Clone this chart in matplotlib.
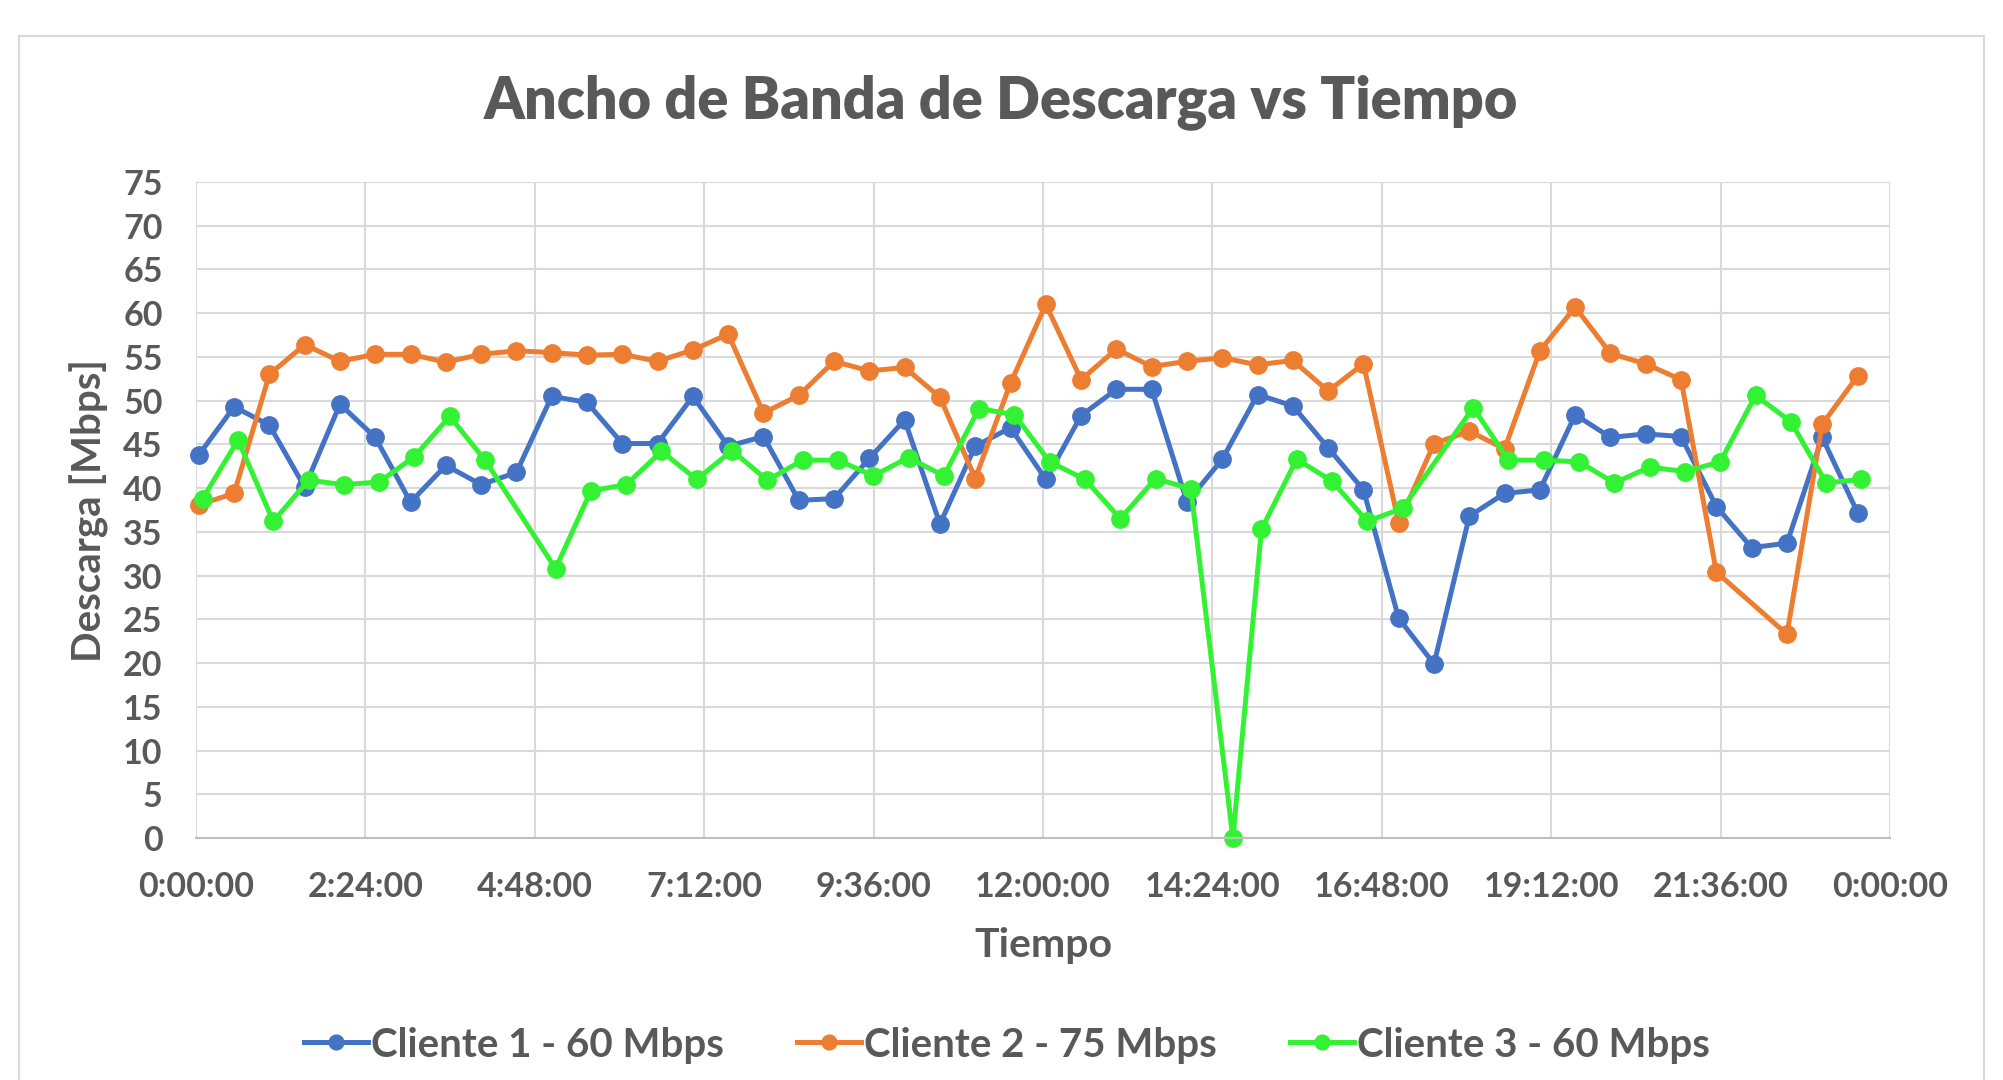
import numpy as np
import matplotlib.pyplot as plt
from matplotlib.patches import Rectangle

plt.rcParams['font.family'] = ['Lato', 'DejaVu Sans']
plt.rcParams['font.weight'] = 'bold'

# tiempos de medicion (horas), cada 30 min
t_12 = 0.04 + 0.5 * np.arange(48)
t_3 = 0.095 + 0.5 * np.arange(48)
t_3[29] = 14.69   # la medicion con 0 Mbps se tomo un poco mas tarde

cliente1 = [43.8, 49.3, 47.2, 40.1, 49.6, 45.8, 38.4, 42.6, 40.4, 41.8, 50.5, 49.8,
            45.1, 45.1, 50.5, 44.8, 45.9, 38.6, 38.8, 43.4, 47.8, 35.9, 44.8, 46.9,
            41.0, 48.3, 51.3, 51.3, 38.4, 43.3, 50.7, 49.4, 44.6, 39.8, 25.1, 19.9,
            36.8, 39.4, 39.8, 48.4, 45.8, 46.2, 45.9, 37.9, 33.2, 33.7, 45.8, 37.2]
cliente2 = [38.1, 39.4, 53.0, 56.4, 54.5, 55.3, 55.3, 54.4, 55.3, 55.7, 55.5, 55.2,
            55.3, 54.5, 55.8, 57.6, 48.6, 50.6, 54.5, 53.4, 53.8, 50.4, 41.1, 52.0,
            61.0, 52.4, 55.9, 53.9, 54.5, 54.9, 54.1, 54.6, 51.1, 54.2, 36.0, 45.1,
            46.5, 44.5, 55.7, 60.7, 55.4, 54.2, 52.4, 30.4, np.nan, 23.3, 47.3, 52.8]
cliente3 = [38.8, 45.5, 36.2, 40.9, 40.4, 40.7, 43.6, 48.2, 43.2, np.nan, 30.8, 39.7,
            40.4, 44.2, 41.0, 44.3, 40.9, 43.2, 43.2, 41.4, 43.5, 41.4, 49.1, 48.4,
            43.0, 41.0, 36.5, 41.1, 39.9, 0.0, 35.3, 43.3, 40.8, 36.2, 37.7, np.nan,
            49.2, 43.2, 43.2, 43.0, 40.6, 42.4, 41.9, 43.0, 50.6, 47.6, 40.6, 41.0]

nombres = ['Cliente 1 - 60 Mbps', 'Cliente 2 - 75 Mbps', 'Cliente 3 - 60 Mbps']
colores = ['#4472C4', '#ED7D31', '#33F233']

xticks = np.arange(0, 24.01, 2.4)
xlabels = ['0:00:00', '2:24:00', '4:48:00', '7:12:00', '9:36:00', '12:00:00',
           '14:24:00', '16:48:00', '19:12:00', '21:36:00', '0:00:00']
yticks = np.arange(0, 76, 5)

gris = '#595959'

fig = plt.figure(figsize=(20.03, 10.8), dpi=100)
fig.patches.append(Rectangle((19 / 2003, -0.05), (1984 - 19) / 2003, 1.05 - 36 / 1080,
                             transform=fig.transFigure, fill=False,
                             edgecolor='#D9D9D9', linewidth=1.5))
ax = fig.add_axes([196 / 2003, 1 - 838 / 1080, (1890 - 196) / 2003, (838 - 182) / 1080])

for t, y, nom, col in zip([t_12, t_12, t_3], [cliente1, cliente2, cliente3], nombres, colores):
    y = np.array(y)
    ok = ~np.isnan(y)
    ax.plot(t[ok], y[ok], '-o', color=col, lw=3.6, ms=12.5, label=nom, clip_on=False)

ax.set_xlim(0, 24)
ax.set_ylim(0, 75)
ax.set_xticks(xticks)
ax.set_xticklabels(xlabels)
ax.set_yticks(yticks)
ax.grid(True, color='#D9D9D9', lw=1.5)
ax.set_axisbelow(True)
for s in ['top', 'right', 'left']:
    ax.spines[s].set_visible(False)
ax.spines['bottom'].set_color('#BFBFBF')
ax.spines['bottom'].set_linewidth(1.5)
ax.tick_params(length=0, labelcolor=gris, labelsize=24.5)
ax.tick_params(axis='x', pad=24)
ax.tick_params(axis='y', pad=24)

fig.text(1001 / 2003, 1 - 102 / 1080, 'Ancho de Banda de Descarga vs Tiempo',
         ha='center', va='center', fontsize=41.5, color=gris, fontweight='heavy')
fig.text(1043 / 2003, 1 - 945 / 1080, 'Tiempo', ha='center', va='center',
         fontsize=29.5, color=gris, fontweight='bold')
fig.text(89 / 2003, 1 - 511 / 1080, 'Descarga [Mbps]', ha='center', va='center',
         rotation=90, fontsize=29, color=gris, fontweight='bold')

leg = fig.legend(loc='center', bbox_to_anchor=(1007 / 2003, 1 - 1045 / 1080), ncol=3,
                 frameon=False, fontsize=29, handlelength=1.6, handletextpad=0.08,
                 columnspacing=1.8, markerscale=0.85)
for txt in leg.get_texts():
    txt.set_color(gris)

fig.savefig('out.png', dpi=100)
